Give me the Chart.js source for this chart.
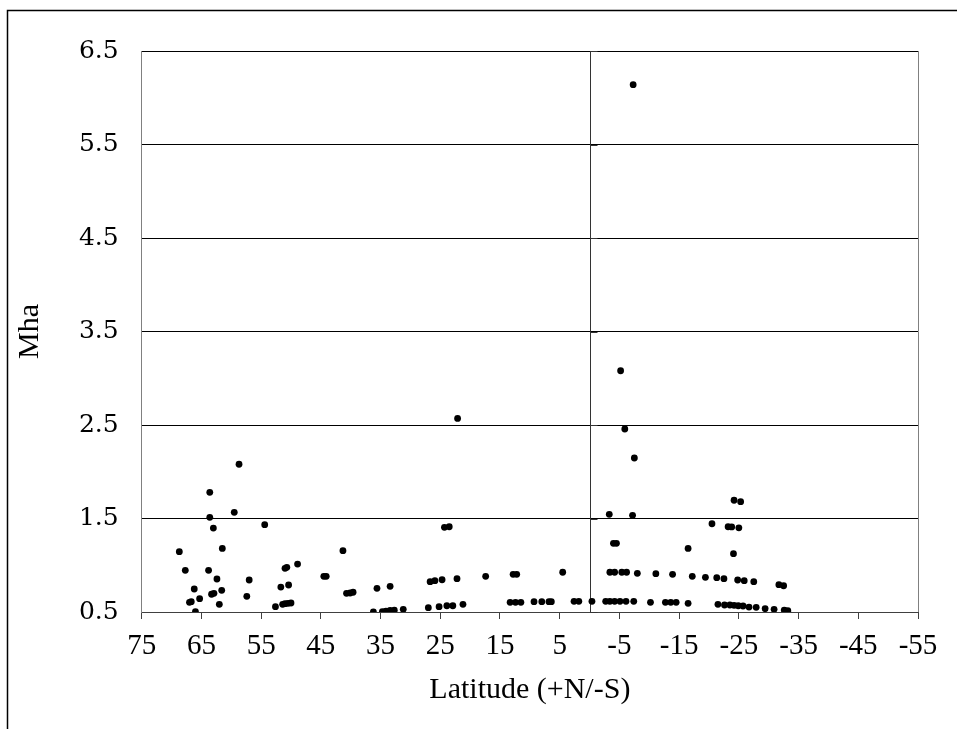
<!DOCTYPE html>
<html>
<head>
<meta charset="utf-8">
<script src="https://cdn.jsdelivr.net/npm/chart.js"></script>
<style>
  html, body { margin: 0; padding: 0; background: #fff; }
  canvas { display: block; }
</style>
</head>
<body>
<canvas id="myChart" width="957" height="729"></canvas>
<script>
// latitude (+N/-S) of each point
const latitude = [
  68.7, 67.7, 66.2, 67.0, 66.7, 65.3, 66.0, 63.6, 63.6, 63.0,
  63.8, 62.4, 61.5, 61.6, 63.3, 62.9, 62.0, 58.7, 59.5, 57.0,
  57.4, 54.4, 52.6, 51.7, 50.4, 51.0, 50.7, 48.9, 51.4, 51.0,
  50.5, 50.0, 44.5, 44.1, 41.3, 40.7, 40.1, 39.6, 36.2, 35.6,
  33.4, 34.7, 34.1, 33.4, 32.7, 31.2, 27.0, 25.2, 23.9, 22.9,
  21.2, 22.1, 24.3, 23.5, 26.7, 25.9, 24.7, 22.2, 17.4, 12.8,
  12.2, 13.3, 12.4, 11.5, 9.3, 8.0, 6.8, 6.4, 4.5, 2.6,
  1.8, -0.4,
  -7.3, -5.2, -5.9, -7.5, -3.3, -7.2, -4.0, -4.5, -3.4, -4.2,
  -5.4, -6.2, -8.0, -11.1, -13.9, -17.2, -16.5, -2.7, -3.4, -4.2,
  -5.1, -6.1, -7.4, -10.2, -12.7, -13.6, -14.5, -16.5, -19.4, -21.3,
  -22.5, -20.5, -23.2, -23.8, -25.0, -24.2, -25.3, -24.1, -24.8, -25.9,
  -27.5, -31.7, -32.5, -21.5, -22.6, -23.5, -24.2, -24.9, -25.7, -26.7,
  -27.9, -29.4, -30.9, -32.6, -33.2
];
// Mha value of each point
const mha = [
  1.145, 0.946, 0.746, 0.604, 0.61, 0.642, 0.503, 1.78, 1.513, 1.398,
  0.946, 0.853, 1.18, 0.732, 0.69, 0.70, 0.582, 2.08, 1.566, 0.842,
  0.668, 1.434, 0.557, 0.767, 0.789, 0.967, 0.978, 1.013, 0.582, 0.589,
  0.593, 0.596, 0.882, 0.882, 1.156, 0.70, 0.703, 0.711, 0.5, 0.753,
  0.775, 0.503, 0.51, 0.518, 0.52, 0.529, 0.546, 0.557, 0.567, 0.567,
  0.582, 2.57, 1.406, 1.412, 0.824, 0.835, 0.845, 0.856, 0.882, 0.903,
  0.903, 0.604, 0.604, 0.604, 0.61, 0.61, 0.61, 0.61, 0.925, 0.614,
  0.614, 0.614,
  6.14, 3.08, 2.457, 2.147, 1.545, 1.534, 1.235, 1.235, 0.925, 0.925,
  0.925, 0.925, 0.914, 0.91, 0.903, 0.882, 1.18, 0.614, 0.614, 0.614,
  0.614, 0.614, 0.614, 0.604, 0.604, 0.604, 0.604, 0.593, 0.871, 0.867,
  0.856, 1.444, 1.412, 1.41, 1.40, 1.695, 1.68, 1.124, 0.842, 0.835,
  0.824, 0.792, 0.781, 0.582, 0.575, 0.575, 0.571, 0.567, 0.564, 0.553,
  0.55, 0.535, 0.529, 0.521, 0.514
];
const xTicks = [75, 65, 55, 45, 35, 25, 15, 5, -5, -15, -25, -35, -45, -55];
const yTicks = [0.5, 1.5, 2.5, 3.5, 4.5, 5.5, 6.5];

const points = latitude.map((lat, i) => ({ x: lat, y: mha[i] }));

// outer frame, right plot border and the vertical axis at latitude 0
const framePlugin = {
  id: "frame",
  beforeDraw(chart) {
    const c = chart.ctx;
    c.save();
    c.fillStyle = "#fff";
    c.fillRect(0, 0, chart.width, chart.height);
    c.strokeStyle = "#000";
    c.lineWidth = 1.5;
    c.beginPath();
    c.moveTo(7.5, chart.height + 2);
    c.lineTo(7.5, 10.5);
    c.lineTo(chart.width + 2, 10.5);
    c.stroke();
    c.restore();
  },
  beforeDatasetsDraw(chart) {
    const c = chart.ctx;
    const a = chart.chartArea;
    const x0 = Math.round(chart.scales.x.getPixelForValue(0)) + 0.5;
    c.save();
    c.lineWidth = 1;
    c.strokeStyle = "#808080";
    c.beginPath();
    c.moveTo(Math.round(a.right) + 0.5, a.top);
    c.lineTo(Math.round(a.right) + 0.5, a.bottom);
    c.stroke();
    c.strokeStyle = "#333";
    c.beginPath();
    c.moveTo(x0, a.top);
    c.lineTo(x0, a.bottom);
    yTicks.forEach((v) => {
      const y = Math.round(chart.scales.y.getPixelForValue(v)) + 0.5;
      c.moveTo(x0, y);
      c.lineTo(x0 + 7, y);
    });
    c.stroke();
    c.restore();
  }
};

window.onload = () => {
  const ctx = document.getElementById("myChart").getContext("2d");
  const myChart = new Chart(ctx, {
    type: "scatter",
    data: {
      datasets: [
        {
          label: "Mha",
          data: points,
          pointRadius: 3.4,
          pointBorderWidth: 0,
          pointBackgroundColor: "#000",
          pointBorderColor: "#000",
        },
      ],
    },
    options: {
      responsive: false,
      animation: false,
      layout: { padding: { top: 51, right: 39, left: 0, bottom: 0 } },
      plugins: {
        legend: { display: false },
        tooltip: { enabled: false },
      },
      scales: {
        x: {
          type: "linear",
          min: -55,
          max: 75,
          reverse: true,
          afterBuildTicks: (s) => { s.ticks = xTicks.map((v) => ({ value: v })); },
          afterFit: (s) => { s.height = 117; },
          grid: { drawOnChartArea: false, drawTicks: true, tickLength: 7, color: "#404040" },
          border: { color: "#404040", width: 1 },
          ticks: {
            color: "#000",
            padding: 10,
            maxRotation: 0,
            autoSkip: false,
            callback: (v) => String(v),
            font: { family: "Liberation Serif", size: 29 },
          },
          title: {
            display: true,
            text: "Latitude (+N/-S)",
            color: "#000",
            font: { family: "Liberation Serif", size: 30 },
            padding: { top: 0, bottom: 21 },
          },
        },
        y: {
          type: "linear",
          min: 0.5,
          max: 6.5,
          afterBuildTicks: (s) => { s.ticks = yTicks.map((v) => ({ value: v })); },
          afterFit: (s) => { s.width = 141.7; },
          grid: { color: "#000", lineWidth: 1, drawTicks: false },
          border: { color: "#808080", width: 1 },
          ticks: {
            color: "#000",
            padding: 23,
            callback: (v) => v.toFixed(1),
            font: { family: "DejaVu Serif", size: 25 },
          },
          title: {
            display: true,
            text: "Mha",
            color: "#000",
            font: { family: "Liberation Serif", size: 30 },
            padding: { top: 12, bottom: 0 },
          },
        },
      },
    },
    plugins: [framePlugin],
  });
};
</script>
</body>
</html>
